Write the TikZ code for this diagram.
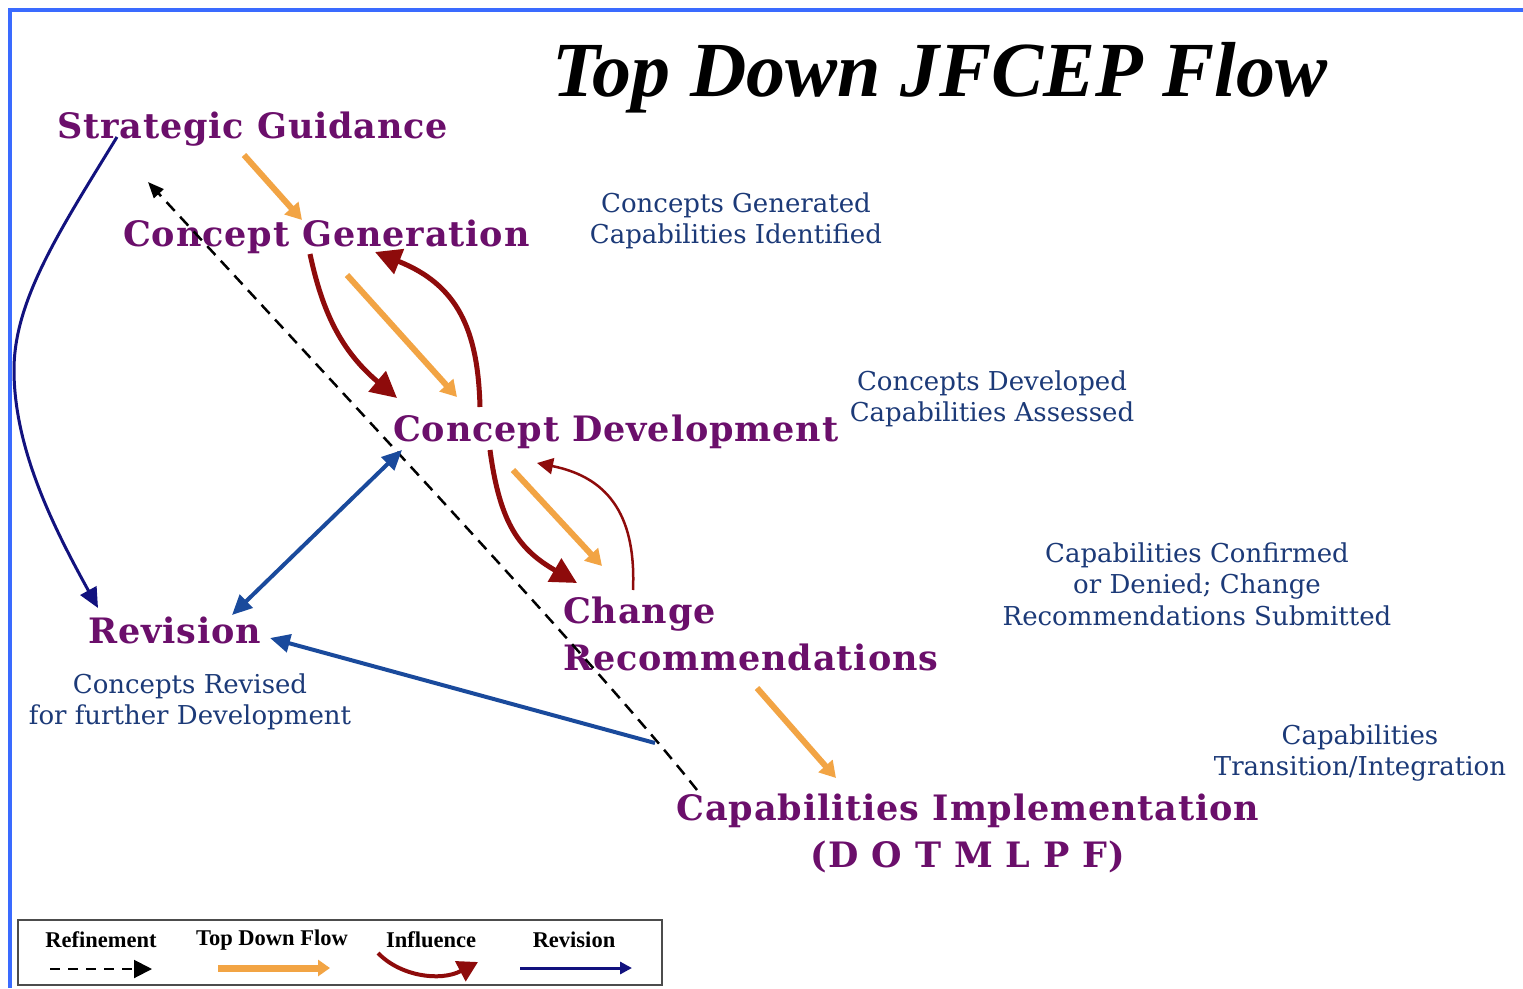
\documentclass[tikz,border=0pt]{standalone}
\usepackage{fontspec}
\setmainfont{Liberation Serif}
\newfontfamily\purplefont[LetterSpace=2.5]{DejaVu Serif}
\newfontfamily\bluefont{DejaVu Serif}
\newfontfamily\titlefont{Liberation Serif}
\usetikzlibrary{arrows.meta}
\definecolor{lblpurple}{HTML}{6B0F6B}
\definecolor{txtblue}{HTML}{1C3A78}
\definecolor{flowcol}{HTML}{F2A444}
\definecolor{inflcol}{HTML}{8E0B0B}
\definecolor{navycol}{HTML}{12127E}
\definecolor{revcol}{HTML}{1A4A9C}
\definecolor{framecol}{HTML}{3A6BFF}
\begin{document}
\begin{tikzpicture}[x=1pt,y=-1pt,
  lbl/.style={text=lblpurple, font=\purplefont\bfseries\fontsize{35}{47}\selectfont, inner sep=0, align=left},
  desc/.style={text=txtblue, font=\bluefont\fontsize{26}{31.5}\selectfont, align=center, inner sep=0},
  legtext/.style={font=\bfseries\fontsize{22.5}{24}\selectfont, inner sep=0},
  flowarrow/.style={draw=flowcol, line width=6pt, -{Triangle[length=16pt,width=18pt]}},
  inflarrow/.style={draw=inflcol, line width=5pt, -{Triangle[length=26pt,width=26pt]}},
  inflthin/.style={draw=inflcol, line width=2.5pt, -{Triangle[length=16pt,width=16pt]}},
  refarrow/.style={draw=black, line width=2.5pt, dash pattern=on 12pt off 8pt, -{Triangle[length=16pt,width=13pt]}},
  revarrow/.style={draw=revcol, line width=4pt, -{Triangle[length=20pt,width=18pt]}},
  navyarrow/.style={draw=navycol, line width=3pt, -{Triangle[length=20pt,width=18pt]}}
]
\useasboundingbox (0,0) rectangle (1523,988);
\fill[white] (0,0) rectangle (1523,988);
\draw[framecol, line width=4pt] (10,988) -- (10,10) -- (1523,10);

% title
\node[font=\titlefont\bfseries\itshape\fontsize{78}{80}\selectfont, inner sep=0, anchor=base] (title) at (940,96) {Top Down JFCEP Flow};

% main labels
\node[lbl, anchor=base west] (sg) at (57,138) {Strategic Guidance};
\node[lbl, anchor=base west] (cg) at (123,246) {Concept Generation};
\node[lbl, anchor=base west] (cd) at (393,441) {Concept Development};
\node[lbl, anchor=north west] (cr) at (563,597) {Change\\Recommendations};
\node[lbl, anchor=base west] (rev) at (88,643) {Revision};
\node[lbl, align=center, anchor=north] (ci) at (968,794) {Capabilities Implementation\\(D O T M L P F)};

% descriptions
\node[desc] (dcg) at (736,221) {Concepts Generated\\Capabilities Identified};
\node[desc] (dcd) at (992,399) {Concepts Developed\\Capabilities Assessed};
\node[desc] (dcr) at (1197,584) {Capabilities Confirmed\\or Denied; Change\\Recommendations Submitted};
\node[desc] (dci) at (1360,753) {Capabilities\\Transition/Integration};
\node[desc] (drev) at (190,702) {Concepts Revised\\for further Development};

% connector end points
\coordinate (sgOut) at (244,155);
\coordinate (cgIn) at (302,220);
\coordinate (cgOut) at (347,275);
\coordinate (cdIn) at (457,397);
\coordinate (cdOut) at (513,470);
\coordinate (crIn) at (602,566);
\coordinate (crOut) at (757,688);
\coordinate (ciIn) at (836,778);

% top down flow
\draw[flowarrow] (sgOut) -- (cgIn);
\draw[flowarrow] (cgOut) -- (cdIn);
\draw[flowarrow] (cdOut) -- (crIn);
\draw[flowarrow] (crOut) -- (ciIn);

% influence
\coordinate (cgInfA) at (310,254);
\coordinate (cdInfA) at (397,398);
\coordinate (cdInfB) at (480,407);
\coordinate (cgInfB) at (375,252);
\coordinate (cdInfC) at (490,450);
\coordinate (crInfA) at (577,583);
\coordinate (crInfB) at (633,590);
\coordinate (cdInfD) at (537,463);
\draw[inflarrow] (cgInfA) .. controls (322,310) and (340,350) .. (cdInfA);
\draw[inflarrow] (cdInfB) .. controls (478,330) and (458,285) .. (cgInfB);
\draw[inflarrow] (cdInfC) .. controls (500,525) and (520,550) .. (crInfA);
\draw[inflthin] (crInfB) .. controls (636,520) and (612,478) .. (cdInfD);

% refinement
\coordinate (ciRef) at (697,790);
\coordinate (sgRef) at (148,182);
\draw[refarrow] (ciRef) .. controls (610,680) and (400,455) .. (sgRef);

% revision
\coordinate (sgRev) at (117,137);
\coordinate (revTop) at (98,608);
\coordinate (revR) at (232,615);
\coordinate (cdRev) at (402,450);
\coordinate (ciRev) at (655,743);
\coordinate (revIn) at (270,638);
\draw[navyarrow] (sgRev) .. controls (60,230) and (14,300) .. (14,370) .. controls (14,450) and (55,530) .. (revTop);
\draw[revarrow, {Triangle[length=20pt,width=18pt]}-{Triangle[length=20pt,width=18pt]}] (revR) -- (cdRev);
\draw[revarrow] (ciRev) -- (revIn);

% legend
\draw[draw=black!70, line width=2pt] (18,920) rectangle (662,985);
\node[legtext] (lref) at (101,940) {Refinement};
\node[legtext] (lflow) at (272,940) {Top Down Flow};
\node[legtext] (linfl) at (431,940) {Influence};
\node[legtext] (lrev) at (574,940) {Revision};
\coordinate (lrefA) at (50,969);
\coordinate (lrefB) at (152,969);
\coordinate (lflowA) at (218,968);
\coordinate (lflowB) at (330,968);
\coordinate (linflA) at (378,953);
\coordinate (linflB) at (478,962);
\coordinate (lrevA) at (520,968);
\coordinate (lrevB) at (632,968);
\draw[refarrow, line width=2pt, dash pattern=on 10pt off 8pt, -{Triangle[length=18pt,width=18pt]}] (lrefA) -- (lrefB);
\draw[flowarrow, line width=7pt, -{Triangle[length=12pt,width=16pt]}] (lflowA) -- (lflowB);
\draw[inflarrow, line width=4pt, -{Triangle[length=20pt,width=22pt]}] (linflA) .. controls (400,976) and (440,982) .. (linflB);
\draw[navyarrow, line width=3pt, -{Triangle[length=12pt,width=12pt]}] (lrevA) -- (lrevB);
\end{tikzpicture}
\end{document}
